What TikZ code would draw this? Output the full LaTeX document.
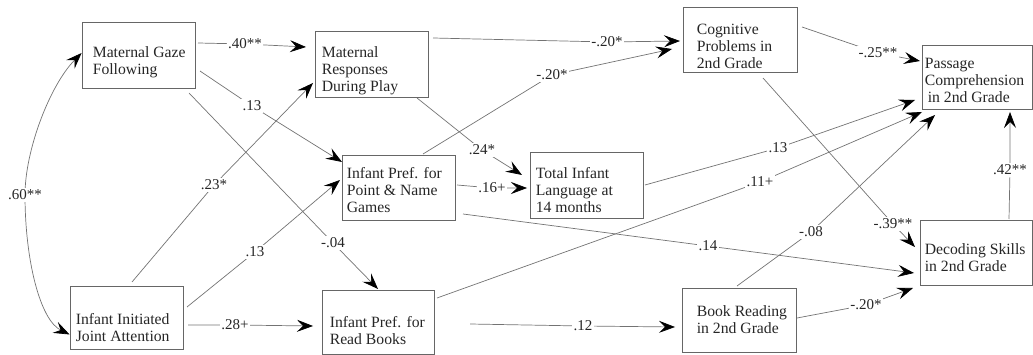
\documentclass[tikz,border=0pt]{standalone}
\usepackage{fontspec}
\setmainfont{Liberation Serif}
\usetikzlibrary{arrows.meta}
\begin{document}
\begin{tikzpicture}[x=1pt,y=1pt,
  >={Stealth[length=16pt,width=12pt,inset=6pt,color=black]},
  box/.style={draw=black!60, line width=0.8pt, inner sep=0pt},
  txt/.style={inner sep=0pt, align=left, anchor=west, font=\fontsize{15.7}{17}\selectfont, text=black!85},
  edge/.style={draw=black!55, line width=0.7pt, ->},
  lbl/.style={fill=white, inner sep=1.5pt, font=\fontsize{15}{17}\selectfont, text=black!85}]
\useasboundingbox (0,0) rectangle (1033,-355);

% boxes
\node[box, minimum width=113pt, minimum height=66pt] (mgf)  at (138.5,-55) {};
\node[box, minimum width=113pt, minimum height=66pt] (mrdp) at (371.5,-64) {};
\node[box, minimum width=114pt, minimum height=65pt] (cog)  at (740,-39.5) {};
\node[box, minimum width=110pt, minimum height=64pt] (pass) at (977,-77) {};
\node[box, minimum width=113pt, minimum height=65pt] (pn)   at (398.5,-187.5) {};
\node[box, minimum width=113pt, minimum height=66pt] (til)  at (586.5,-185) {};
\node[box, minimum width=113pt, minimum height=63pt] (iija) at (126.5,-317.5) {};
\node[box, minimum width=112pt, minimum height=64pt] (rb)   at (378,-322) {};
\node[box, minimum width=114pt, minimum height=64pt] (br)   at (739,-320) {};
\node[box, minimum width=112pt, minimum height=65pt] (dec)  at (976,-252.5) {};

% texts
\node[txt] (mgf-t)  at ([shift={(11,-7)}]mgf.west) {Maternal Gaze\\Following};
\node[txt] (mrdp-t) at ([shift={(7,-6.5)}]mrdp.west) {Maternal\\Responses\\During Play};
\node[txt] (cog-t)  at ([shift={(14,-7)}]cog.west) {Cognitive\\Problems in\\2nd Grade};
\node[txt] (pass-t) at ([shift={(3,-3)}]pass.west) {Passage\\Comprehension\\\hspace*{3pt}in 2nd Grade};
\node[txt] (pn-t)   at ([shift={(5,-2.5)}]pn.west) {Infant Pref. for\\Point \& Name\\Games};
\node[txt] (til-t)  at ([shift={(6,-5)}]til.west) {Total Infant\\Language at\\14 months};
\node[txt] (iija-t) at ([shift={(6,-10)}]iija.west) {Infant Initiated\\Joint Attention};
\node[txt] (rb-t)   at ([shift={(8,-9)}]rb.west) {Infant Pref. for\\Read Books};
\node[txt] (br-t)   at ([shift={(15,0)}]br.west) {Book Reading\\in 2nd Grade};
\node[txt] (dec-t)  at ([shift={(5,-5)}]dec.west) {Decoding Skills\\in 2nd Grade};

% edges
\draw[edge] ([shift={(59.5,12)}]mgf.center) -- (245,-44) node[lbl] {.40**} -- ([shift={(-65.5,17)}]mrdp.center);
\draw[edge] ([shift={(61.5,-16)}]mgf.center) -- (252,-106) node[lbl] {.13} -- ([shift={(-56.5,25.5)}]pn.center);
\draw[edge] ([shift={(50.5,-38)}]mgf.center) -- (333,-243) node[lbl] {-.04} -- ([shift={(0,33)}]rb.center);
\draw[edge] ([shift={(5.5,35.5)}]iija.center) -- (214,-185) node[lbl] {.23*} -- ([shift={(-58.5,-19)}]mrdp.center);
\draw[edge] ([shift={(60.5,10.5)}]iija.center) -- (255,-252) node[lbl] {.13} -- ([shift={(-58.5,7.5)}]pn.center);
\draw[edge] ([shift={(61.5,-7.5)}]iija.center) -- (235,-325) node[lbl] {.28+} -- ([shift={(-65,-4)}]rb.center);
\draw[edge] ([shift={(45.5,-34)}]mrdp.center) -- (482,-150) node[lbl] {.24*} -- ([shift={(-64.5,10)}]til.center);
\draw[edge] ([shift={(61.5,26)}]mrdp.center) -- (607,-42) node[lbl] {-.20*} -- ([shift={(-60,-1.5)}]cog.center);
\draw[edge] ([shift={(24.5,33.5)}]pn.center) -- (552,-75) node[lbl] {-.20*} -- ([shift={(-68,-9.5)}]cog.center);
\draw[edge] ([shift={(58.5,2.5)}]pn.center) -- (492,-188) node[lbl] {.16+} -- ([shift={(-59.5,-3)}]til.center);
\draw[edge] ([shift={(64.5,-26.5)}]pn.center) -- (708,-246) node[lbl] {.14} -- ([shift={(-62,-20.5)}]dec.center);
\draw[edge] ([shift={(58.5,0)}]til.center) -- (778,-148) node[lbl] {.13} -- ([shift={(-62,-23)}]pass.center);
\draw[edge] ([shift={(59,24)}]rb.center) -- (760,-182) node[lbl] {.11+} -- ([shift={(-55,-35)}]pass.center);
\draw[edge] ([shift={(92,-2)}]rb.center) -- (583,-326) node[lbl] {.12} -- ([shift={(-64,-7)}]br.center);
\draw[edge] ([shift={(-2,34)}]br.center) -- (811,-232) node[lbl] {-.08} -- ([shift={(-42,-38)}]pass.center);
\draw[edge] ([shift={(58,2)}]br.center) -- (866,-305) node[lbl] {-.20*} -- ([shift={(-63,-35.5)}]dec.center);
\draw[edge] ([shift={(62,12.5)}]cog.center) -- (878,-53) node[lbl] {-.25**} -- ([shift={(-57,16)}]pass.center);
\draw[edge] ([shift={(23,-38.5)}]cog.center) -- (893,-224) node[lbl] {-.39**} -- ([shift={(-61,5.5)}]dec.center);
\draw[edge] ([shift={(33,33.5)}]dec.center) -- (1010,-170) node[lbl] {.42**} -- ([shift={(33,-35)}]pass.center);

% correlation curve
\draw[edge, <->] ([yshift=2pt]mgf.west) .. controls (50,-85) and (25,-150) .. (25,-195) node[lbl] {.60**}
  .. controls (25,-260) and (40,-320) .. ([yshift=-17pt]iija.west);
\end{tikzpicture}
\end{document}
